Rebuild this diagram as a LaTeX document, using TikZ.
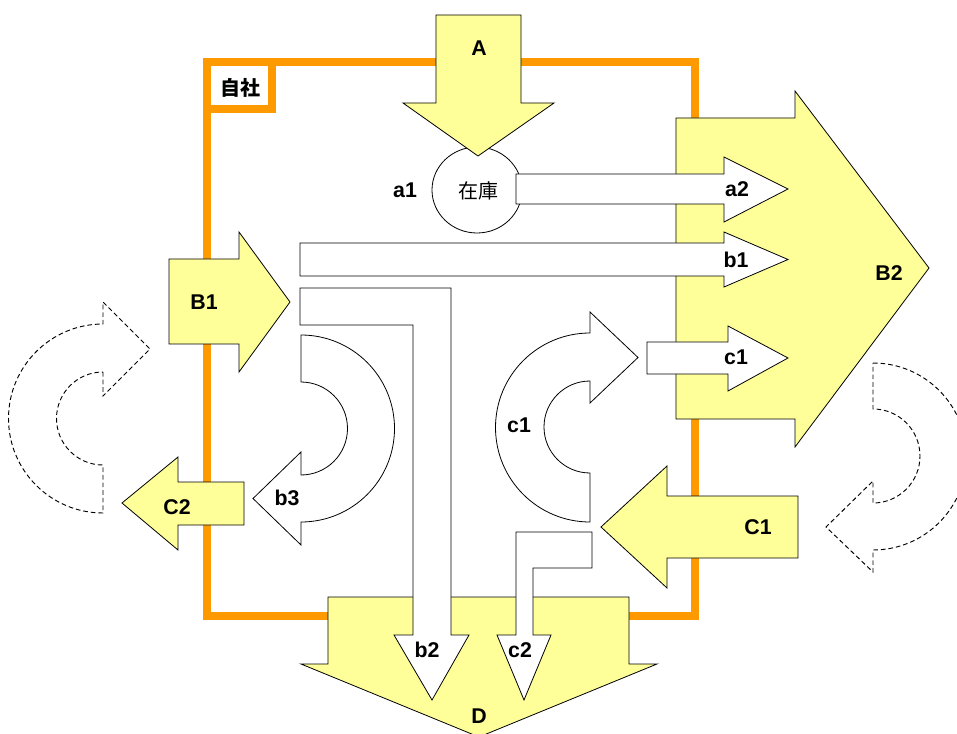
\documentclass[tikz,border=0pt]{standalone}
\usepackage{fontspec}
\setmainfont{Liberation Sans}
\newfontfamily\cjk{Noto Sans CJK JP}
\definecolor{frameorange}{HTML}{FF9900}
\definecolor{lightyellow}{HTML}{FFFF99}
\begin{document}
\begin{tikzpicture}[x=0.75pt,y=-0.75pt,
  bigarrow/.style={fill=lightyellow,draw=black,line width=0.6pt,line join=miter},
  flowarrow/.style={fill=white,draw=black,line width=0.6pt,line join=miter},
  ghostarrow/.style={draw=black,line width=0.7pt,dash pattern=on 3.5pt off 2.2pt},
  frameline/.style={draw=frameorange,line width=6pt,line join=miter},
  lbl/.style={font=\fontsize{16}{18}\selectfont\bfseries,inner sep=0pt},
  jlbl/.style={font=\cjk\fontsize{15}{17}\selectfont,inner sep=0pt}]
\useasboundingbox (0,0) rectangle (957,734);
\clip (0,0) rectangle (957,734);
% company frame
\draw[frameline] (207,62) rectangle (695,616);
\draw[frameline,fill=white] (207,62) rectangle (272,109);
\node[jlbl,font=\cjk\fontsize{15}{17}\selectfont\bfseries] (jisha) at (240.5,87.5) {自社};
% dashed ghost arrows
\draw[ghostarrow] (103,372) -- (103,396) -- (150,349) -- (103,302) -- (103,324)
  arc[start angle=-90,end angle=-270,radius=94.5] -- (103,465)
  arc[start angle=90,end angle=270,radius=46.5] -- cycle;
\draw[ghostarrow] (873,363) arc[start angle=-90,end angle=90,radius=93.5]
  -- (873,572) -- (826,527) -- (873,481) -- (873,503)
  arc[start angle=90,end angle=-90,radius=47] -- cycle;
% stock
\draw[line width=0.6pt,fill=white] (477,190) ellipse[x radius=45,y radius=43];
\node[jlbl] (zaiko) at (478.5,191) {在庫};
\node[lbl] (a1) at (405,190) {a1};
% big yellow arrows
\draw[bigarrow] (436,15) -- (521,15) -- (521,103) -- (554,103) -- (478,156) -- (403,103) -- (436,103) -- cycle;
\draw[bigarrow] (676,118) -- (795,118) -- (795,91) -- (929,268) -- (795,447) -- (795,419) -- (676,419) -- cycle;
\draw[bigarrow] (169,259) -- (239,259) -- (239,232) -- (290,302) -- (239,372) -- (239,344) -- (169,344) -- cycle;
\draw[bigarrow] (244,482) -- (178,482) -- (178,457) -- (122,503) -- (178,550) -- (178,525) -- (244,525) -- cycle;
\draw[bigarrow] (798,496) -- (667,496) -- (667,466) -- (601,527) -- (667,588) -- (667,558) -- (798,558) -- cycle;
\draw[bigarrow] (328,597) -- (629,597) -- (629,664) -- (657,664) -- (479,737) -- (301,664) -- (328,664) -- cycle;
% white flow arrows
\draw[flowarrow] (516,174) -- (724,174) -- (724,157) -- (788,189) -- (724,222) -- (724,204) -- (516,204) -- cycle;
\draw[flowarrow] (300,243) -- (724,243) -- (724,232) -- (788,259.5) -- (724,287) -- (724,276) -- (300,276) -- cycle;
\draw[flowarrow] (647,342) -- (728,342) -- (728,326) -- (788,358) -- (728,391) -- (728,374) -- (647,374) -- cycle;
\draw[flowarrow] (300,288) -- (451,288) -- (451,635) -- (469,635) -- (432,700) -- (394,635) -- (413,635) -- (413,325) -- (300,325) -- cycle;
\draw[flowarrow] (516,532) -- (592,532) -- (592,568) -- (533,568) -- (533,635) -- (551,635) -- (524,700) -- (497,635) -- (516,635) -- cycle;
% curved flow arrows
\draw[flowarrow] (301,335) arc[start angle=-90,end angle=90,radius=93.5]
  -- (301,545) -- (253,498.5) -- (301,452) -- (301,475)
  arc[start angle=90,end angle=-90,radius=46.5] -- cycle;
\draw[flowarrow] (590,381) -- (590,403) -- (638,357.5) -- (590,312) -- (590,333)
  arc[start angle=-90,end angle=-270,radius=94.5] -- (590,473)
  arc[start angle=90,end angle=270,radius=46] -- cycle;
% labels
\node[lbl] (A) at (479,48) {A};
\node[lbl] (B1) at (204,302) {B1};
\node[lbl] (B2) at (889,273) {B2};
\node[lbl] (C1) at (758,527) {C1};
\node[lbl] (C2) at (177,507) {C2};
\node[lbl] (D) at (479,716) {D};
\node[lbl] (a2) at (737,189) {a2};
\node[lbl] (b1) at (736,260) {b1};
\node[lbl] (c1r) at (736,357) {c1};
\node[lbl] (c1c) at (519,425) {c1};
\node[lbl] (b3) at (287,498) {b3};
\node[lbl] (b2) at (427,650) {b2};
\node[lbl] (c2) at (520,650) {c2};
\end{tikzpicture}
\end{document}
